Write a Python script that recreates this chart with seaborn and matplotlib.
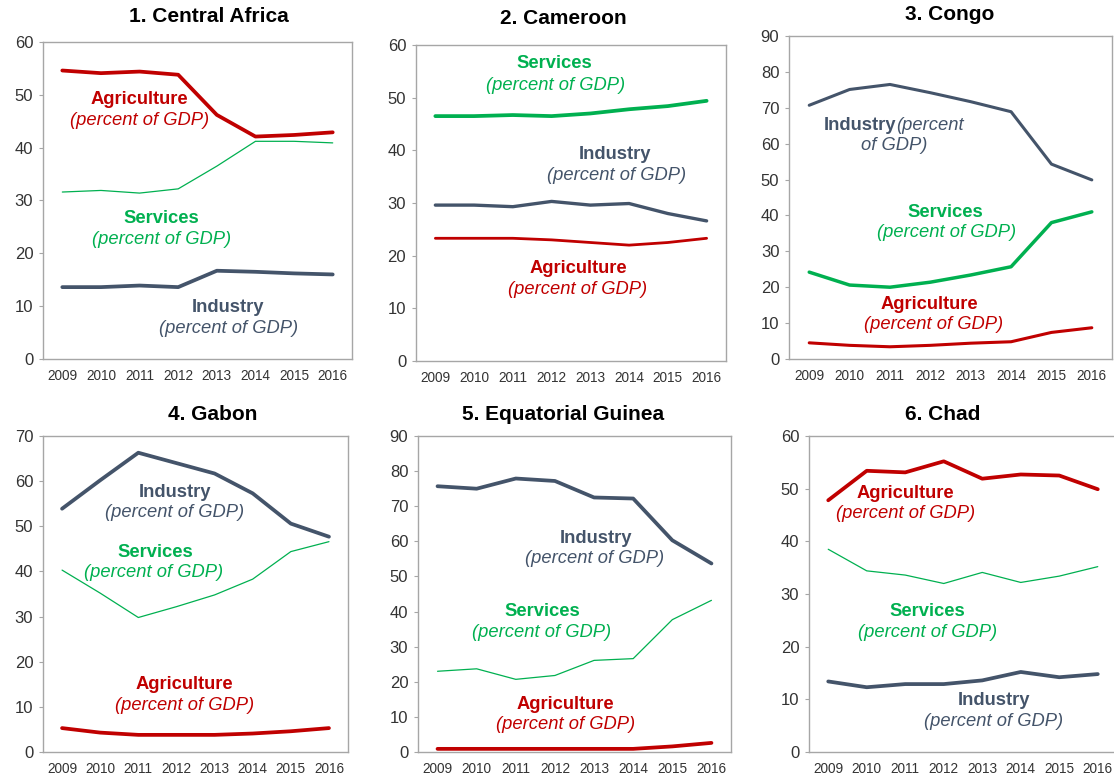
import numpy as np
import pandas as pd
import matplotlib
matplotlib.use("Agg")
import matplotlib.pyplot as plt
import seaborn as sns

years = [2009, 2010, 2011, 2012, 2013, 2014, 2015, 2016]

# 1. Central Africa
ca_agri = [54.6, 54.1, 54.4, 53.8, 46.2, 42.1, 42.4, 42.9]
ca_serv = [31.6, 31.9, 31.4, 32.2, 36.5, 41.2, 41.2, 40.9]
ca_ind = [13.6, 13.6, 13.9, 13.6, 16.7, 16.5, 16.2, 16.0]
# 2. Cameroon
cm_agri = [23.3, 23.3, 23.3, 23.0, 22.5, 22.0, 22.5, 23.3]
cm_serv = [46.5, 46.5, 46.7, 46.5, 47.0, 47.8, 48.4, 49.4]
cm_ind = [29.6, 29.6, 29.3, 30.3, 29.6, 29.9, 28.0, 26.6]
# 3. Congo
cg_agri = [4.5, 3.8, 3.4, 3.8, 4.4, 4.8, 7.4, 8.7]
cg_serv = [24.2, 20.6, 20.0, 21.4, 23.4, 25.7, 38.0, 41.0]
cg_ind = [70.7, 75.1, 76.5, 74.2, 71.7, 68.9, 54.3, 49.9]
# 4. Gabon
ga_agri = [5.3, 4.3, 3.8, 3.8, 3.8, 4.1, 4.6, 5.3]
ga_serv = [40.3, 35.2, 29.8, 32.2, 34.8, 38.3, 44.4, 46.6]
ga_ind = [53.9, 60.2, 66.3, 64.0, 61.7, 57.3, 50.6, 47.7]
# 5. Equatorial Guinea
eg_agri = [0.9, 0.9, 0.9, 0.9, 0.9, 0.9, 1.6, 2.6]
eg_serv = [23.0, 23.7, 20.7, 21.8, 26.1, 26.6, 37.7, 43.2]
eg_ind = [75.7, 75.0, 77.9, 77.2, 72.5, 72.2, 60.3, 53.7]
# 6. Chad
td_agri = [47.8, 53.4, 53.1, 55.2, 51.9, 52.7, 52.5, 49.9]
td_serv = [38.5, 34.4, 33.6, 32.0, 34.1, 32.2, 33.4, 35.2]
td_ind = [13.4, 12.3, 12.9, 12.9, 13.6, 15.2, 14.2, 14.8]

titles = ["1. Central Africa", "2. Cameroon", "3. Congo",
          "4. Gabon", "5. Equatorial Guinea", "6. Chad"]
ymax = [60, 60, 90, 70, 90, 60]

RED = "#C00000"
NAVY = "#44546A"
GREEN = "#00B050"
SUB = "(percent of GDP)"

sns.set_style("white")
plt.rcParams["font.family"] = ["Liberation Sans", "DejaVu Sans"]

fig = plt.figure(figsize=(11.14, 7.76), dpi=100)

# axes rectangles [left, bottom, width, height]
rects = [
    [0.0386, 0.5374, 0.2774, 0.4085],
    [0.3734, 0.5348, 0.2783, 0.4072],
    [0.7083, 0.5374, 0.2899, 0.4162],
    [0.0386, 0.0309, 0.2738, 0.4072],
    [0.3752, 0.0309, 0.2810, 0.4072],
    [0.7262, 0.0309, 0.2765, 0.4072],
]
title_pos = [(209, 16), (563, 18), (950, 14), (213, 414), (563, 414), (943, 414)]

# series per panel: (values, colour, linewidth)
panels = [
    [(ca_agri, RED, 2.7), (ca_serv, GREEN, 0.9), (ca_ind, NAVY, 2.7)],
    [(cm_agri, RED, 2.0), (cm_serv, GREEN, 2.7), (cm_ind, NAVY, 2.4)],
    [(cg_agri, RED, 2.2), (cg_serv, GREEN, 2.5), (cg_ind, NAVY, 2.2)],
    [(ga_agri, RED, 2.7), (ga_serv, GREEN, 0.9), (ga_ind, NAVY, 2.7)],
    [(eg_agri, RED, 2.7), (eg_serv, GREEN, 0.9), (eg_ind, NAVY, 2.7)],
    [(td_agri, RED, 2.7), (td_serv, GREEN, 0.9), (td_ind, NAVY, 2.7)],
]

# label annotations: (name, colour, x_bold, y_bold, x_sub, y_sub)
labels = [
    [("Agriculture", RED, 2011.0, 49.1, 2011.0, 45.2),
     ("Services", GREEN, 2011.56, 26.5, 2011.56, 22.7),
     ("Industry", NAVY, 2013.3, 9.8, 2013.3, 5.8)],
    [("Services", GREEN, 2012.06, 56.4, 2012.1, 52.4),
     ("Industry", NAVY, 2013.64, 39.3, 2013.67, 35.3),
     ("Agriculture", RED, 2012.68, 17.6, 2012.68, 13.6)],
    [("Services", GREEN, 2012.37, 40.9, 2012.4, 35.2),
     ("Agriculture", RED, 2011.98, 15.3, 2012.07, 9.7)],
    [("Industry", NAVY, 2011.96, 57.6, 2011.96, 53.1),
     ("Services", GREEN, 2011.44, 44.1, 2011.41, 39.7),
     ("Agriculture", RED, 2012.22, 14.9, 2012.22, 10.3)],
    [("Industry", NAVY, 2013.04, 60.8, 2013.01, 55.1),
     ("Services", GREEN, 2011.69, 40.0, 2011.67, 34.0),
     ("Agriculture", RED, 2012.26, 13.5, 2012.27, 7.8)],
    [("Agriculture", RED, 2011.0, 49.1, 2011.01, 45.2),
     ("Services", GREEN, 2011.57, 26.7, 2011.57, 22.7),
     ("Industry", NAVY, 2013.31, 9.8, 2013.29, 5.8)],
]

for i in range(6):
    ax = fig.add_axes(rects[i])
    for vals, col, lw in panels[i]:
        df = pd.DataFrame({"year": years, "value": vals})
        sns.lineplot(data=df, x="year", y="value", color=col, linewidth=lw, ax=ax)
    ax.set_xlim(2008.5, 2016.5)
    ax.set_ylim(0, ymax[i])
    ax.set_yticks(np.arange(0, ymax[i] + 1, 10))
    ax.set_xticks(years)
    ax.set_xticklabels([str(y) for y in years])
    ax.set_xlabel("")
    ax.set_ylabel("")
    ax.tick_params(axis="y", length=3, width=0.8, color="#A6A6A6", pad=4,
                   labelsize=12, labelcolor="#333333", left=True)
    ax.tick_params(axis="x", length=0, pad=7, labelsize=9.8, labelcolor="#333333")
    for s in ax.spines.values():
        s.set_color("#A6A6A6")
        s.set_linewidth(1.0)
        s.set_visible(True)
    for name, col, xb, yb, xs, ys in labels[i]:
        ax.text(xb, yb, name, color=col, fontsize=13.2, fontweight="bold",
                ha="center", va="center")
        ax.text(xs, ys, SUB, color=col, fontsize=13.2, style="italic",
                ha="center", va="center")
    if i == 2:
        # Congo industry label wraps differently
        ax.text(2011.16, 65.1, "Industry", color=NAVY, fontsize=13.2,
                fontweight="bold", ha="right", va="center")
        ax.text(2011.16, 65.1, "(percent", color=NAVY, fontsize=13.2,
                style="italic", ha="left", va="center")
        ax.text(2011.10, 59.4, "of GDP)", color=NAVY, fontsize=13.2,
                style="italic", ha="center", va="center")
    tx, ty = title_pos[i]
    fig.text(tx / 1114, 1 - ty / 776, titles[i], fontsize=15, fontweight="bold",
             ha="center", va="center", color="black")

fig.savefig("out.png", dpi=100)
